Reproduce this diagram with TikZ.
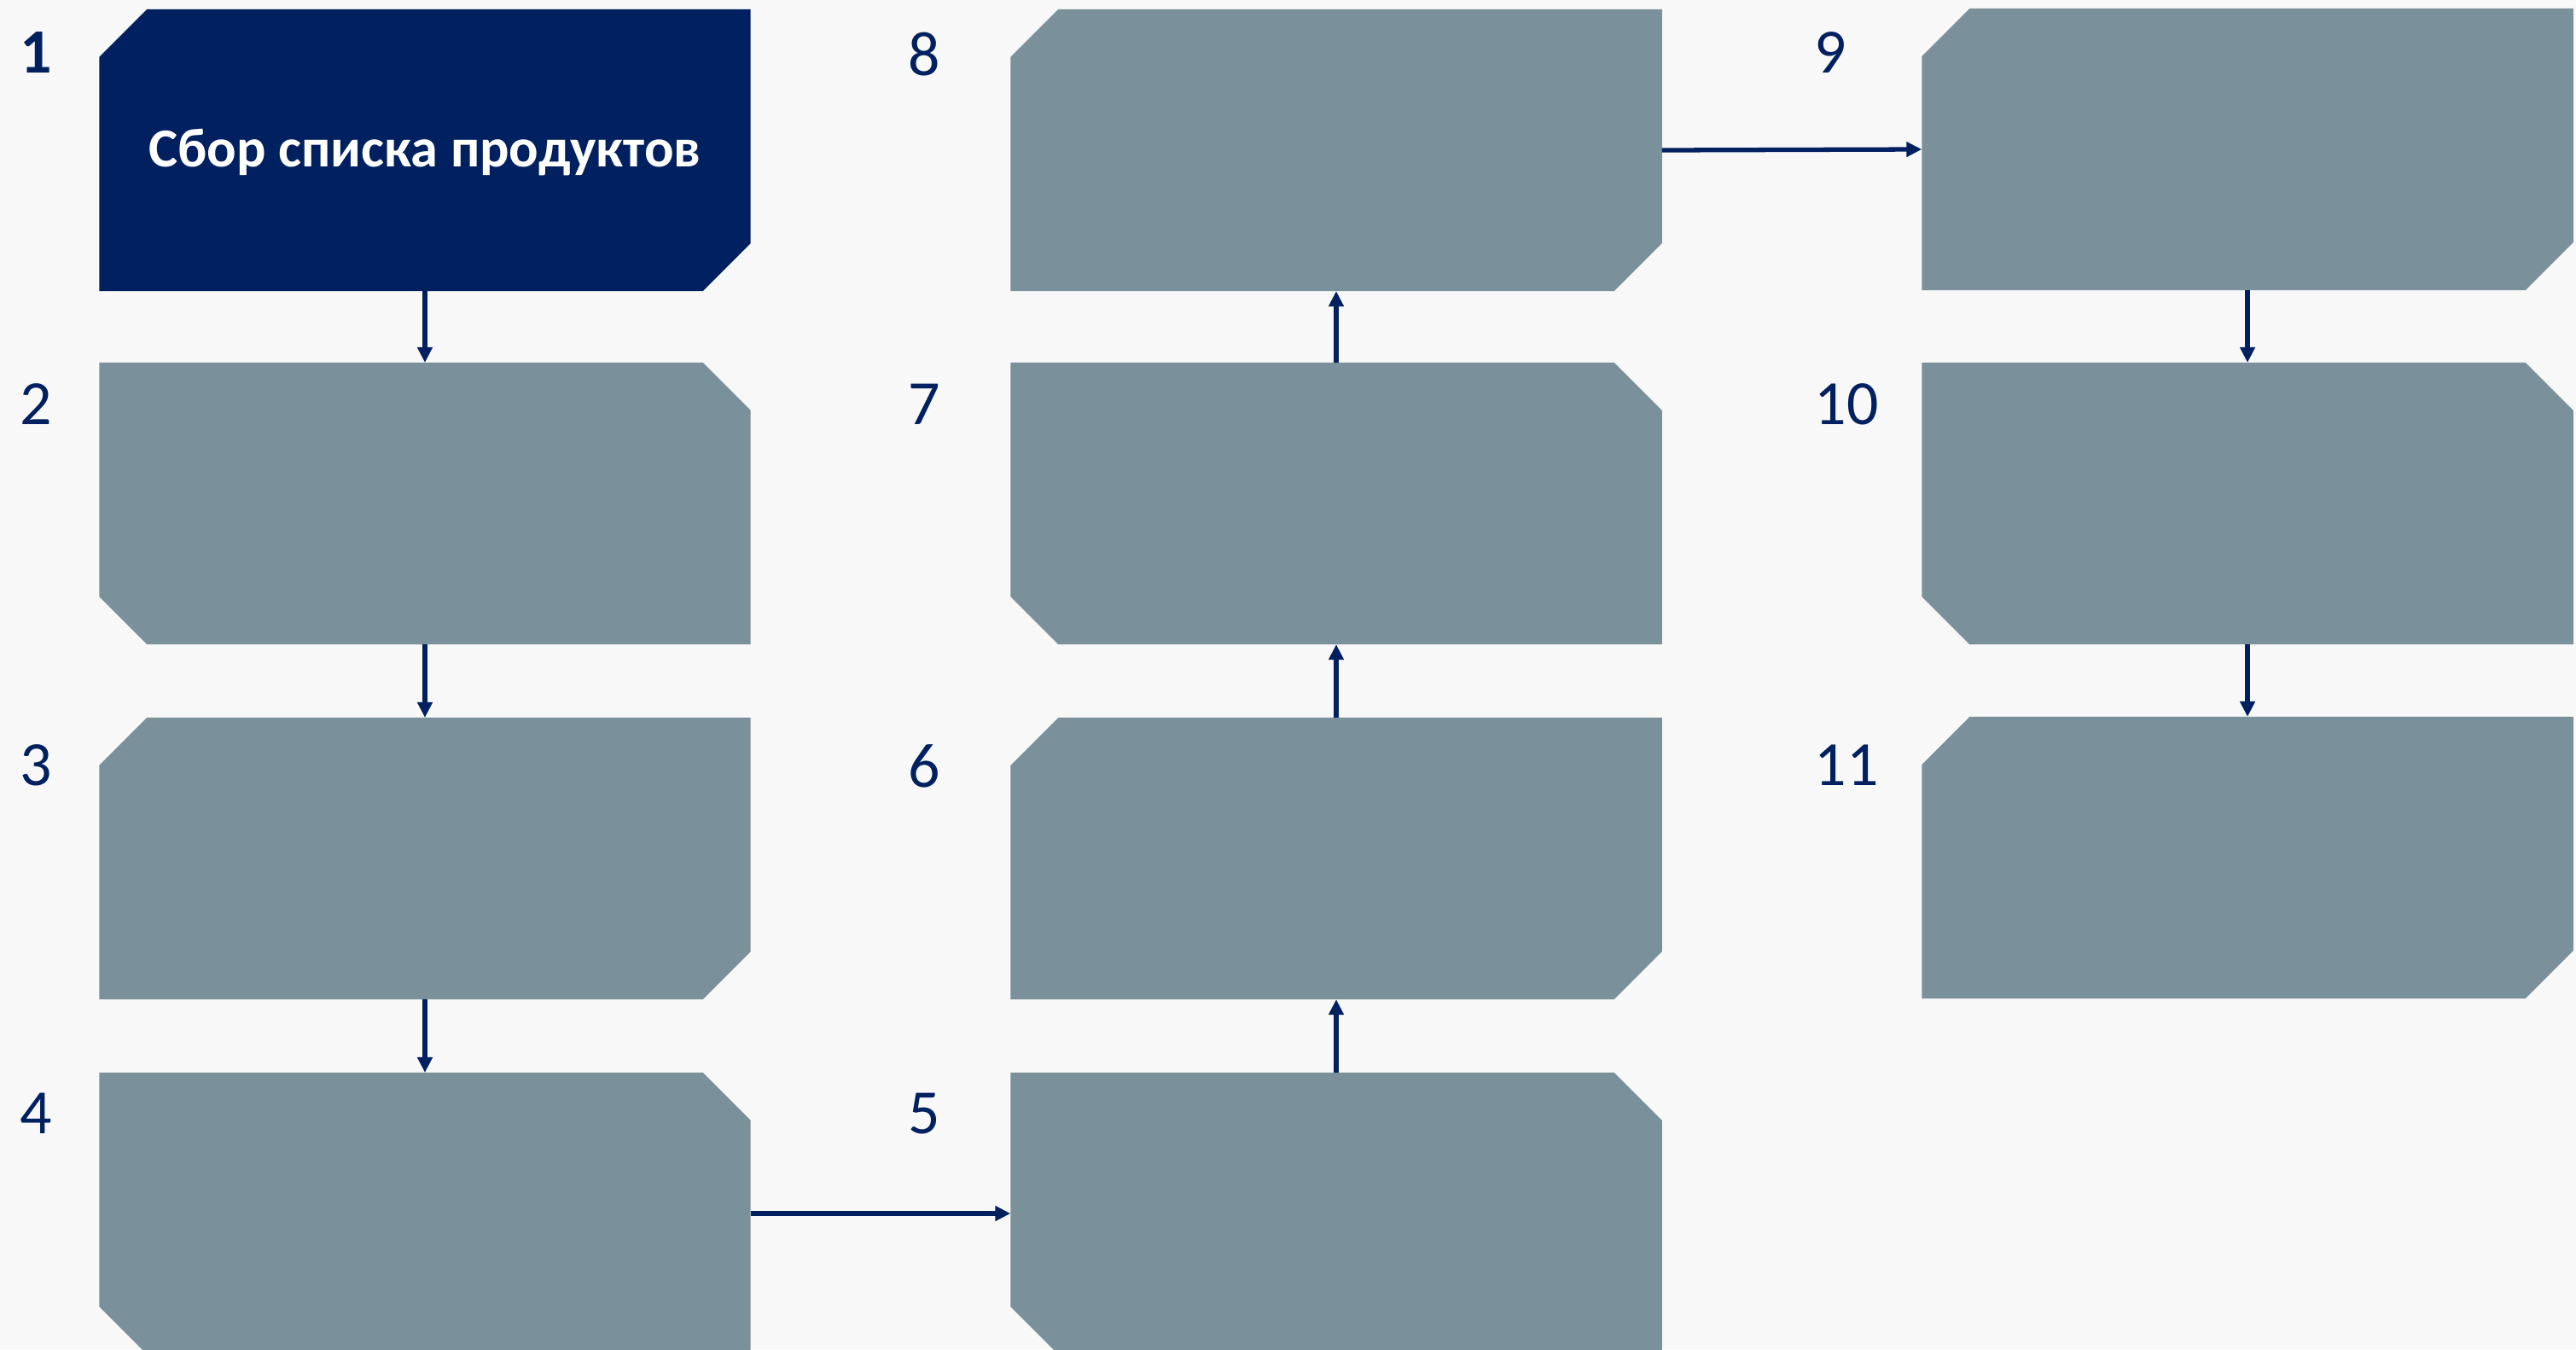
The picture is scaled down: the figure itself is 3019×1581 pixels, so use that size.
\documentclass[tikz,border=0pt]{standalone}
\usepackage{fontspec}
\setmainfont{Carlito}
\usepackage{xcolor}
\usetikzlibrary{arrows.meta,backgrounds}
\definecolor{navy}{RGB}{0,32,96}
\definecolor{slate}{RGB}{122,144,154}
\definecolor{paper}{RGB}{248,248,248}
% chamfered fills behind the named boxes
\newcommand{\cutnwse}[2]{\fill[#2] ([xshift=0.56cm]#1.north west) -- (#1.north east) -- ([yshift=0.56cm]#1.south east)
    -- ([xshift=-0.56cm]#1.south east) -- (#1.south west) -- ([yshift=-0.56cm]#1.north west) -- cycle;}
\newcommand{\cutnesw}[2]{\fill[#2] (#1.north west) -- ([xshift=-0.56cm]#1.north east) -- ([yshift=-0.56cm]#1.north east)
    -- (#1.south east) -- ([xshift=0.56cm]#1.south west) -- ([yshift=0.56cm]#1.south west) -- cycle;}

\begin{document}
\begin{tikzpicture}[x=0.01cm,y=-0.01cm,
        box/.style={rectangle,minimum width=7.63cm,minimum height=3.30cm,inner sep=0pt,outer sep=0pt},
        num/.style={anchor=north west,inner sep=0pt,text=navy,font=\fontsize{21}{25}\selectfont},
        link/.style={-{Triangle[length=0.18cm,width=0.17cm]},line width=1.5pt,draw=navy}]
        \useasboundingbox (0,0) rectangle (3019,1581);
        % Column 1
        \node[box,text=white,text height=0.50cm,font=\bfseries\fontsize{18.3}{22}\selectfont] (b1) at (498,176) {Сбор списка продуктов};
        \node[box] (b2) at (498,590) {};
        \node[box] (b3) at (498,1006) {};
        \node[box] (b4) at (498,1422) {};
        % Column 2
        \node[box] (b5) at (1566,1422) {};
        \node[box] (b6) at (1566,1006) {};
        \node[box] (b7) at (1566,590) {};
        \node[box] (b8) at (1566,176) {};
        % Column 3
        \node[box] (b9) at (2634,175) {};
        \node[box] (b10) at (2634,590) {};
        \node[box] (b11) at (2634,1005) {};
        % Fills
        \begin{scope}[on background layer]
            \fill[paper] (0,0) rectangle (3019,1581);
            \cutnwse{b1}{navy}
            \cutnesw{b2}{slate}
            \cutnwse{b3}{slate}
            \cutnesw{b4}{slate}
            \cutnesw{b5}{slate}
            \cutnwse{b6}{slate}
            \cutnesw{b7}{slate}
            \cutnwse{b8}{slate}
            \cutnwse{b9}{slate}
            \cutnesw{b10}{slate}
            \cutnwse{b11}{slate}
        \end{scope}
        % Numbers
        \node[num,font=\bfseries\fontsize{21}{25}\selectfont] (n1) at (23,37) {1};
        \node[num] (n2) at (23,449) {2};
        \node[num] (n3) at (23,872) {3};
        \node[num] (n4) at (23,1280) {4};
        \node[num] (n5) at (1064,1280) {5};
        \node[num] (n6) at (1064,872) {6};
        \node[num] (n7) at (1064,449) {7};
        \node[num] (n8) at (1064,37) {8};
        \node[num] (n9) at (2126,37) {9};
        \node[num] (n10) at (2126,449) {10};
        \node[num] (n11) at (2126,872) {11};
        % Edges
        \draw[link] (b1.south) -- (b2.north);
        \draw[link] (b2.south) -- (b3.north);
        \draw[link] (b3.south) -- (b4.north);
        \draw[link] (b4.east) -- (b5.west);
        \draw[link] (b5.north) -- (b6.south);
        \draw[link] (b6.north) -- (b7.south);
        \draw[link] (b7.north) -- (b8.south);
        \draw[link] (b8.east) -- (b9.west);
        \draw[link] (b9.south) -- (b10.north);
        \draw[link] (b10.south) -- (b11.north);
    \end{tikzpicture}
\end{document}
